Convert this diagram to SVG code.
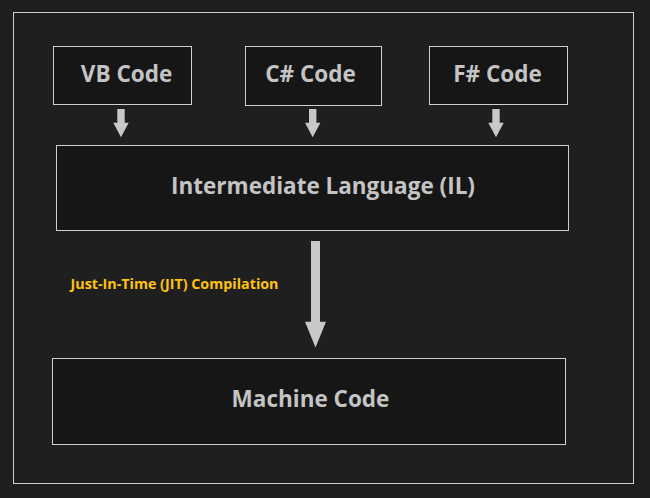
<svg xmlns="http://www.w3.org/2000/svg" width="650" height="498" viewBox="0 0 650 498">
<defs>
<style>
.bg{fill:#1f1f1f}
.frame{fill:none;stroke:#cfcfcf;stroke-width:1}
.box{fill:#161616;stroke:#cfcfcf;stroke-width:1}
.lbl{font-family:"Open Sans","Noto Sans",sans-serif;font-weight:bold;font-size:22.5px;fill:#c4c4c4;text-anchor:middle}
.jit{font-family:"Open Sans","Noto Sans",sans-serif;font-weight:bold;font-size:14.3px;fill:#ffc20e}
.arr{fill:#c8c8c8}
</style>
</defs>
<rect class="bg" x="0" y="0" width="650" height="498"/>
<rect class="frame" x="13.5" y="12.5" width="620" height="471"/>
<g id="vb">
<rect class="box" x="53.5" y="46.5" width="138" height="58"/>
<text class="lbl" x="126.5" y="82">VB Code</text>
</g>
<g id="cs">
<rect class="box" x="245.5" y="46.5" width="136" height="59"/>
<text class="lbl" x="310.5" y="82">C# Code</text>
</g>
<g id="fs">
<rect class="box" x="429.5" y="46.5" width="138" height="58"/>
<text class="lbl" x="497.5" y="82">F# Code</text>
</g>
<g id="il">
<rect class="box" x="56.5" y="145.5" width="512" height="85"/>
<text class="lbl" x="323" y="193.5">Intermediate Language (IL)</text>
</g>
<g id="mc">
<rect class="box" x="52.5" y="358.5" width="513" height="86"/>
<text class="lbl" x="310.5" y="406.5">Machine Code</text>
</g>
<g id="connectors">
<polygon class="arr" points="117.3,109 124.7,109 124.7,122.7 128.7,122.7 121,137.3 113.3,122.7 117.3,122.7"/>
<polygon class="arr" points="309,109 316.4,109 316.4,122.7 320.4,122.7 312.7,137.3 305,122.7 309,122.7"/>
<polygon class="arr" points="492.3,109 499.7,109 499.7,122.7 503.7,122.7 496,137.3 488.3,122.7 492.3,122.7"/>
<polygon class="arr" points="311,241 320,241 320,321.7 326,321.7 315.5,347.5 305,321.7 311,321.7"/>
<text class="jit" x="70.5" y="288.5">Just-In-Time (JIT) Compilation</text>
</g>
</svg>
